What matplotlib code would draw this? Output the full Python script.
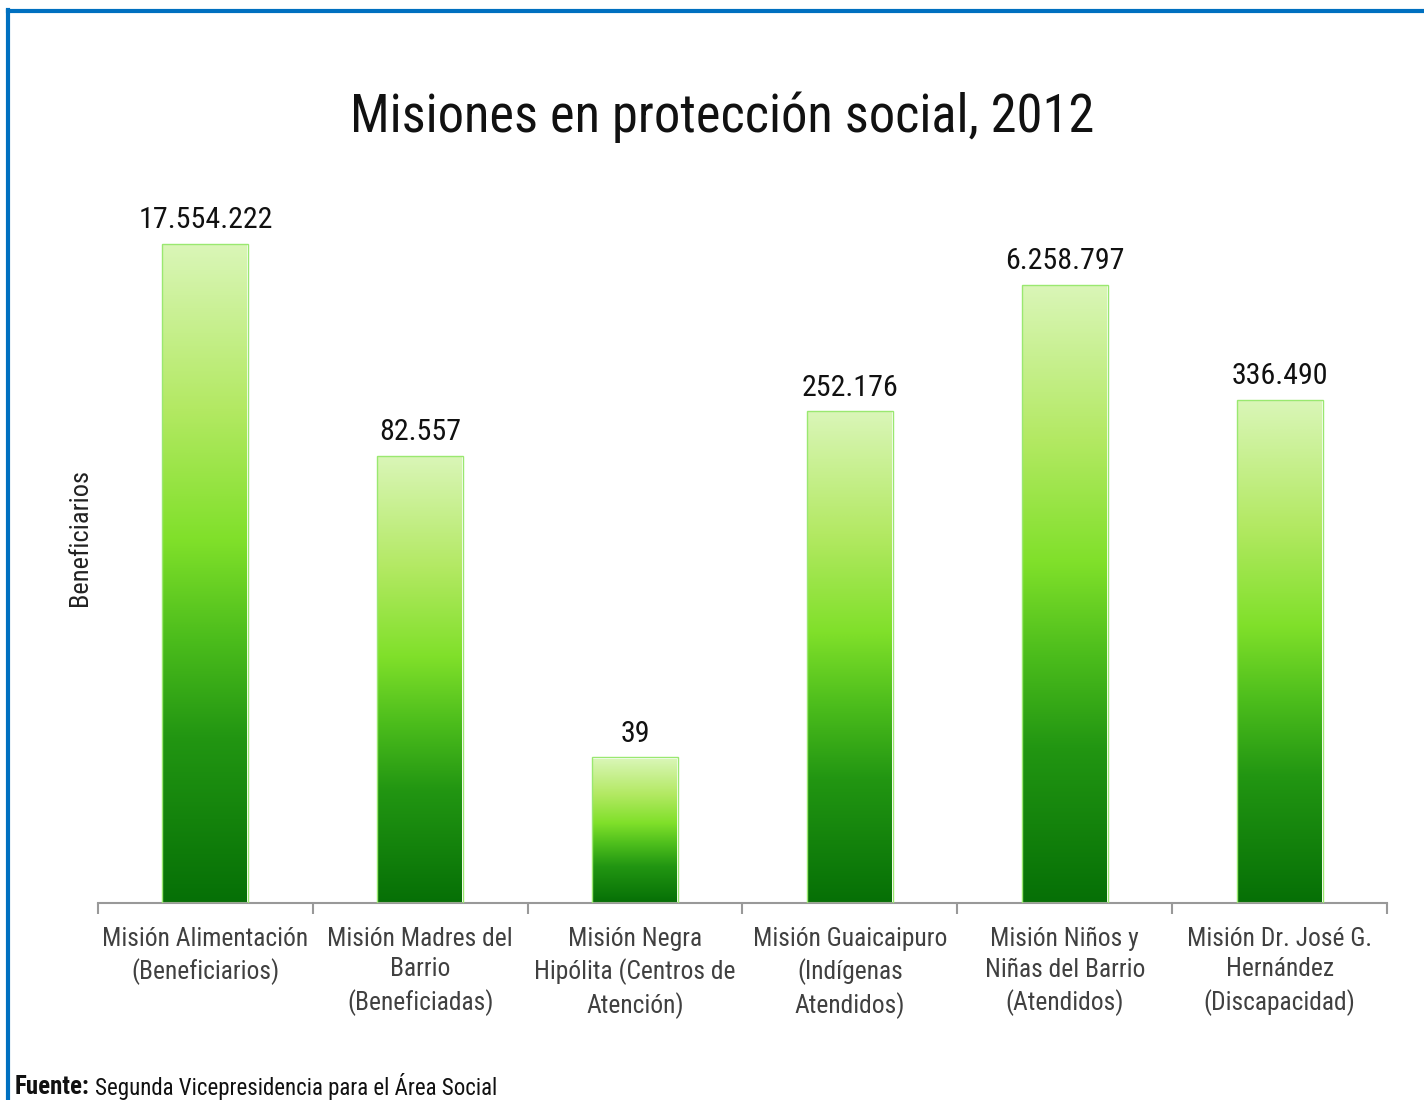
import numpy as np
import matplotlib
matplotlib.use("Agg")
import matplotlib.pyplot as plt
from matplotlib.colors import LinearSegmentedColormap
from matplotlib import font_manager

categories = [
    "Misión Alimentación\n(Beneficiarios)",
    "Misión Madres del\nBarrio\n(Beneficiadas)",
    "Misión Negra\nHipólita (Centros de\nAtención)",
    "Misión Guaicaipuro\n(Indígenas\nAtendidos)",
    "Misión Niños y\nNiñas del Barrio\n(Atendidos)",
    "Misión Dr. José G.\nHernández\n(Discapacidad)",
]
values = [17554222, 82557, 39, 252176, 6258797, 336490]
labels = ["17.554.222", "82.557", "39", "252.176", "6.258.797", "336.490"]

title = "Misiones en protección social, 2012"
ylabel = "Beneficiarios"

names = {f.name for f in font_manager.fontManager.ttflist}
narrow_candidates = ["Liberation Sans Narrow", "Roboto Condensed", "Open Sans Condensed",
                     "Arial Narrow", "Noto Sans Condensed"]
narrow = next((f for f in narrow_candidates if f in names), None)
base = narrow if narrow else ("Liberation Sans" if "Liberation Sans" in names else "DejaVu Sans")
scale = 1.0 if narrow else 0.83
plt.rcParams["font.family"] = [base, "DejaVu Sans"]

fig = plt.figure(figsize=(14.24, 11.0), dpi=100)
ax = fig.add_axes([98/1424, 1-903/1100, (1387-98)/1424, (903-175)/1100])
ax.set_yscale("log")
n = len(values)
ax.set_xlim(-0.5, n-0.5)
ax.set_ylim(1, 1e8)

cmap = LinearSegmentedColormap.from_list("g", [
    (0.0, "#067006"), (0.25, "#229612"), (0.40, "#4cbd1c"), (0.55, "#80e02a"),
    (0.75, "#b3e963"), (1.0, "#daf6b8")])
grad = np.linspace(0, 1, 256).reshape(-1, 1)
w = 0.4
bars = ax.bar(range(n), values, width=w, bottom=1, color="none",
              edgecolor="#9ae870", linewidth=1.0, zorder=3)
xt = ax.get_xaxis_transform()
for i, (b, v) in enumerate(zip(bars, values)):
    # bar top as a fraction of the axes height (through the log scale)
    frac = ax.transLimits.transform(ax.transScale.transform((0, v)))[1]
    im = ax.imshow(grad, cmap=cmap, origin="lower", aspect="auto",
                   extent=(i - w/2, i + w/2, 0, frac), zorder=2,
                   interpolation="bilinear", transform=xt)
    im.set_clip_path(b)
    ax.annotate(labels[i], (i, v), xytext=(0, 7), textcoords="offset points",
                ha="center", va="bottom", fontsize=21.6*scale, color="#111111")
ax.set_xlim(-0.5, n-0.5)
ax.set_ylim(1, 1e8)

for s in ["top", "right", "left"]:
    ax.spines[s].set_visible(False)
ax.spines["bottom"].set_color("#999999")
ax.spines["bottom"].set_linewidth(1.5)
ax.set_yticks([])
ax.minorticks_off()
ax.tick_params(axis="y", which="both", left=False, labelleft=False)
ax.set_xticks(np.arange(-0.5, n, 1.0), minor=False)
ax.set_xticklabels([])
ax.tick_params(axis="x", which="major", length=8, width=1.5, color="#999999", direction="out")
ax.set_xticks(range(n), minor=True)
ax.set_xticklabels(categories, minor=True, fontsize=18.4*scale, color="#404040", linespacing=1.36)
ax.tick_params(axis="x", which="minor", length=0, pad=17)

fig.text(80/1424, 1-538/1100, ylabel, rotation=90, ha="center", va="center",
         fontsize=19*scale, color="#222222")
fig.text(722/1424, 1-117/1100, title, ha="center", va="center",
         fontsize=37.8*scale, color="#111111")
fig.text(15/1424, 1-1087/1100, "Fuente:", ha="left", va="center",
         fontsize=18*scale, fontweight="bold", color="#111111")
fig.text(95/1424, 1-1087/1100, "Segunda Vicepresidencia para el Área Social",
         ha="left", va="center", fontsize=16.5*scale, color="#111111")

# blue frame (left and top edges)
fig.add_artist(plt.Line2D([8/1424, 8/1424], [0, 1-10/1100], transform=fig.transFigure,
                          color="#0070c0", linewidth=3))
fig.add_artist(plt.Line2D([8/1424, 1], [1-11/1100, 1-11/1100], transform=fig.transFigure,
                          color="#0070c0", linewidth=3))

fig.savefig("out.png", dpi=100)
